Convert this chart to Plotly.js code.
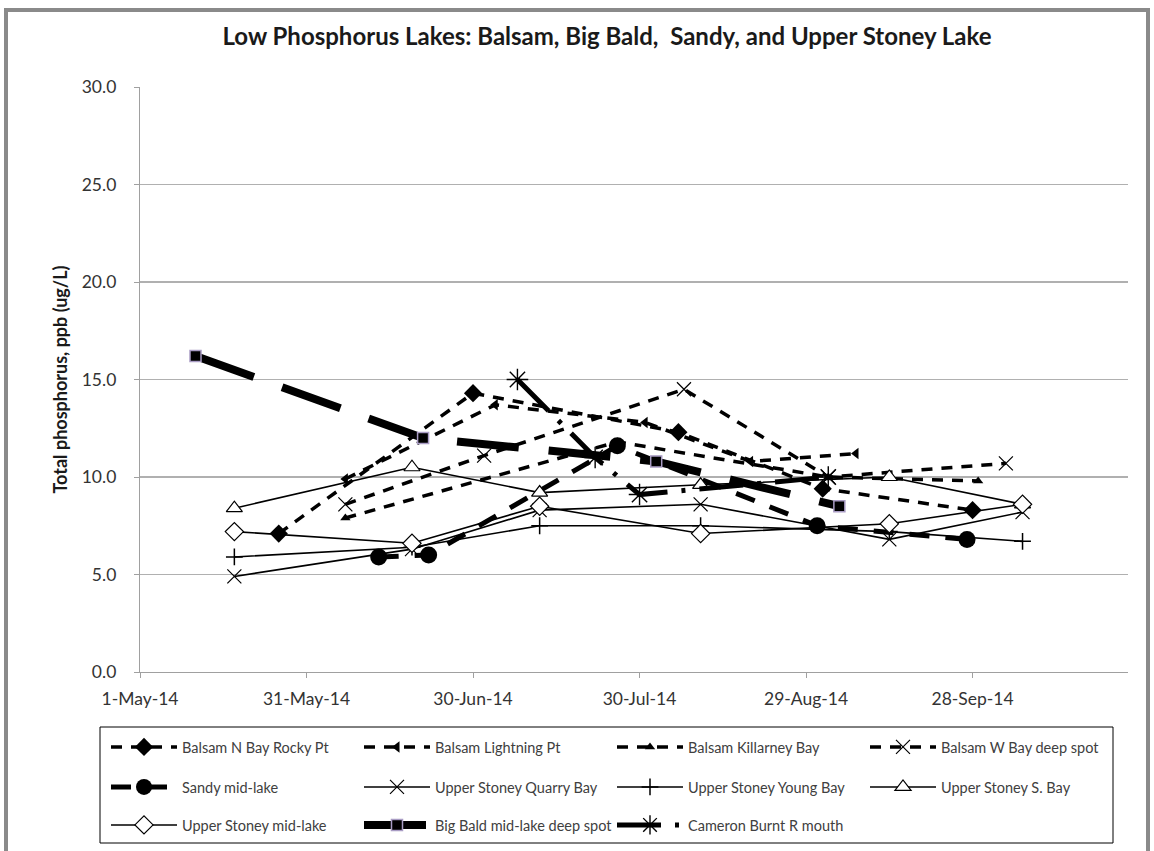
<!DOCTYPE html>
<html><head><meta charset="utf-8">
<script src="https://cdn.plot.ly/plotly-3.0.1.min.js"></script>
<style>html,body{margin:0;padding:0;background:#fff;}#chart{width:1154px;height:851px;}</style>
</head><body><div id="chart"></div>
<script>
// ---- data ----
const nBayDates = ['2014-05-26','2014-06-30','2014-08-06','2014-09-01','2014-09-28'];
const nBayValues = [7.1, 14.3, 12.3, 9.4, 8.3];
const lightningDates = ['2014-06-07','2014-07-04','2014-07-31','2014-08-19','2014-09-07'];
const lightningValues = [9.9, 13.7, 12.8, 10.8, 11.2];
const killarneyDates = ['2014-06-07','2014-07-26','2014-09-02','2014-09-29'];
const killarneyValues = [7.9, 11.8, 10.0, 9.8];
const wBayDates = ['2014-06-07','2014-07-02','2014-08-07','2014-09-02','2014-10-04'];
const wBayValues = [8.6, 11.1, 14.5, 10.0, 10.7];
const sandyDates = ['2014-06-13','2014-06-22','2014-07-26','2014-08-31','2014-09-27'];
const sandyValues = [5.9, 6.0, 11.6, 7.5, 6.8];
const stoneyDates = ['2014-05-18','2014-06-19','2014-07-12','2014-08-10','2014-09-13','2014-10-07'];
const quarryValues = [4.9, 6.3, 8.3, 8.6, 6.8, 8.2];
const youngValues = [5.9, 6.4, 7.5, 7.5, 7.2, 6.7];
const sBayValues = [8.4, 10.5, 9.2, 9.6, 10.0, 8.6];
const midLakeValues = [7.2, 6.6, 8.5, 7.1, 7.6, 8.6];
const bigBaldDates = ['2014-05-11','2014-06-21','2014-08-02','2014-09-04'];
const bigBaldValues = [16.2, 12.0, 10.8, 8.5];
const cameronDates = ['2014-07-08','2014-07-22','2014-07-30','2014-09-02'];
const cameronValues = [15.0, 11.0, 9.1, 10.0];
const tickDates = ['2014-05-01','2014-05-31','2014-06-30','2014-07-30','2014-08-29','2014-09-28'];
const tickLabels = ['1-May-14','31-May-14','30-Jun-14','30-Jul-14','29-Aug-14','28-Sep-14'];

const FONT = 'Lato, "Open Sans", sans-serif';
const K = '#000000';

function tr(name, x, y, line, marker, legend) {
  return {type:'scatter', mode:'lines+markers', name, x, y, line, marker, legend,
          hoverinfo:'x+y+name'};
}
const balsamDash = '11px,9px';
const traces = [
  tr('Balsam N Bay Rocky Pt', nBayDates, nBayValues, {color:K, width:3.5, dash:balsamDash},
     {symbol:'diamond', size:14, color:K}, 'legend'),
  tr('Balsam Lightning Pt', lightningDates, lightningValues, {color:K, width:3.5, dash:balsamDash},
     {symbol:'triangle-left', size:10, color:K}, 'legend'),
  tr('Balsam Killarney Bay', killarneyDates, killarneyValues, {color:K, width:3.5, dash:balsamDash},
     {symbol:'triangle-up', size:9, color:K}, 'legend'),
  tr('Balsam W Bay deep spot', wBayDates, wBayValues, {color:K, width:3.5, dash:balsamDash},
     {symbol:'x-thin-open', size:14, color:K, line:{color:K, width:1.2}}, 'legend'),
  tr('Sandy mid-lake', sandyDates, sandyValues, {color:K, width:5, dash:'20px,16px'},
     {symbol:'circle', size:17, color:K}, 'legend2'),
  tr('Upper Stoney Quarry Bay', stoneyDates, quarryValues, {color:K, width:1.6},
     {symbol:'x-thin-open', size:14, color:K, line:{color:K, width:1.2}}, 'legend2'),
  tr('Upper Stoney Young Bay', stoneyDates, youngValues, {color:K, width:1.6},
     {symbol:'cross-thin-open', size:12, color:K, line:{color:K, width:1.5}}, 'legend2'),
  tr('Upper Stoney S. Bay', stoneyDates, sBayValues, {color:K, width:1.6},
     {symbol:'triangle-up', size:14, color:'#ffffff', line:{color:K, width:1.2}}, 'legend2'),
  tr('Upper Stoney mid-lake', stoneyDates, midLakeValues, {color:K, width:1.6},
     {symbol:'diamond', size:14, color:'#ffffff', line:{color:K, width:1.2}}, 'legend3'),
  tr('Big Bald mid-lake deep spot', bigBaldDates, bigBaldValues, {color:K, width:8, dash:'62px,30px'},
     {symbol:'square', size:11, color:K, line:{color:'#a99cc4', width:1.5}}, 'legend3'),
  tr('Cameron Burnt R mouth', cameronDates, cameronValues, {color:K, width:5, dash:'44px,14px,4px,14px'},
     {symbol:'asterisk-open', size:18, color:K, line:{color:K, width:1.4}}, 'legend3')
];

// pixel helpers for paper coordinates (plot area 140..1128 x, 87..672 y)
const PL = 140, PW = 988, PT = 87, PH = 585;
const px = v => (v - PL) / PW;
const py = v => (PT + PH - v) / PH;

const legendBase = {orientation:'h', xanchor:'left', yanchor:'middle', bgcolor:'rgba(0,0,0,0)',
  font:{family:FONT, size:14.5, color:'#404040'}, entrywidth:172, entrywidthmode:'pixels',
  itemwidth:66, itemclick:false, itemdoubleclick:false};

const layout = {
  width:1154, height:851,
  margin:{l:PL, r:1154-PL-PW, t:PT, b:851-PT-PH, pad:0, autoexpand:false},
  paper_bgcolor:'#ffffff', plot_bgcolor:'#ffffff',
  font:{family:FONT, color:'#333333'},
  showlegend:true,
  title:{text:'<b>Low Phosphorus Lakes: Balsam, Big Bald,  Sandy, and Upper Stoney Lake</b>',
         xref:'container', x:0.526, xanchor:'center', yref:'container', y:1-37/851, yanchor:'middle',
         font:{family:FONT, size:24, color:'#1a1a1a'}},
  xaxis:{type:'date', range:['2014-05-01','2014-10-26'], tickmode:'array', tickvals:tickDates,
         ticktext:tickLabels, ticks:'outside', ticklen:5, tickcolor:'#a0a0a0', tickwidth:1,
         showline:true, linecolor:'#a0a0a0', linewidth:1.2, showgrid:false, zeroline:false,
         ticklabelstandoff:6, automargin:false,
         tickfont:{family:FONT, size:17.5, color:'#333333'}, fixedrange:true},
  yaxis:{range:[0,30], dtick:5, tick0:0, tickformat:'.1f', ticks:'outside', ticklen:5,
         tickcolor:'#a0a0a0', showline:true, linecolor:'#a0a0a0', linewidth:1.2,
         showgrid:true, gridcolor:'#b0b0b0', gridwidth:1.2, zeroline:false, automargin:false,
         tickfont:{family:FONT, size:17.5, color:'#333333'}, ticklabelstandoff:14,
         title:{text:'<b>Total phosphorus, ppb (ug/L)</b>', standoff:9,
                font:{family:FONT, size:18, color:'#1a1a1a'}}, fixedrange:true},
  legend: Object.assign({}, legendBase, {x:px(106), y:py(747)}),
  legend2: Object.assign({}, legendBase, {x:px(106), y:py(787)}),
  legend3: Object.assign({}, legendBase, {x:px(106), y:py(825)}),
  shapes:[
    {type:'rect', xref:'paper', yref:'paper', x0:px(6), x1:px(1148), y0:py(870), y1:py(10),
     line:{color:'#8a8a8a', width:4}, fillcolor:'rgba(0,0,0,0)', layer:'below'},
    {type:'rect', xref:'paper', yref:'paper', x0:px(100), x1:px(1113), y0:py(843), y1:py(727),
     line:{color:'#000000', width:1}, fillcolor:'rgba(0,0,0,0)'}
  ]
};

Plotly.newPlot('chart', traces, layout, {displayModeBar:false, staticPlot:true});
</script></body></html>
